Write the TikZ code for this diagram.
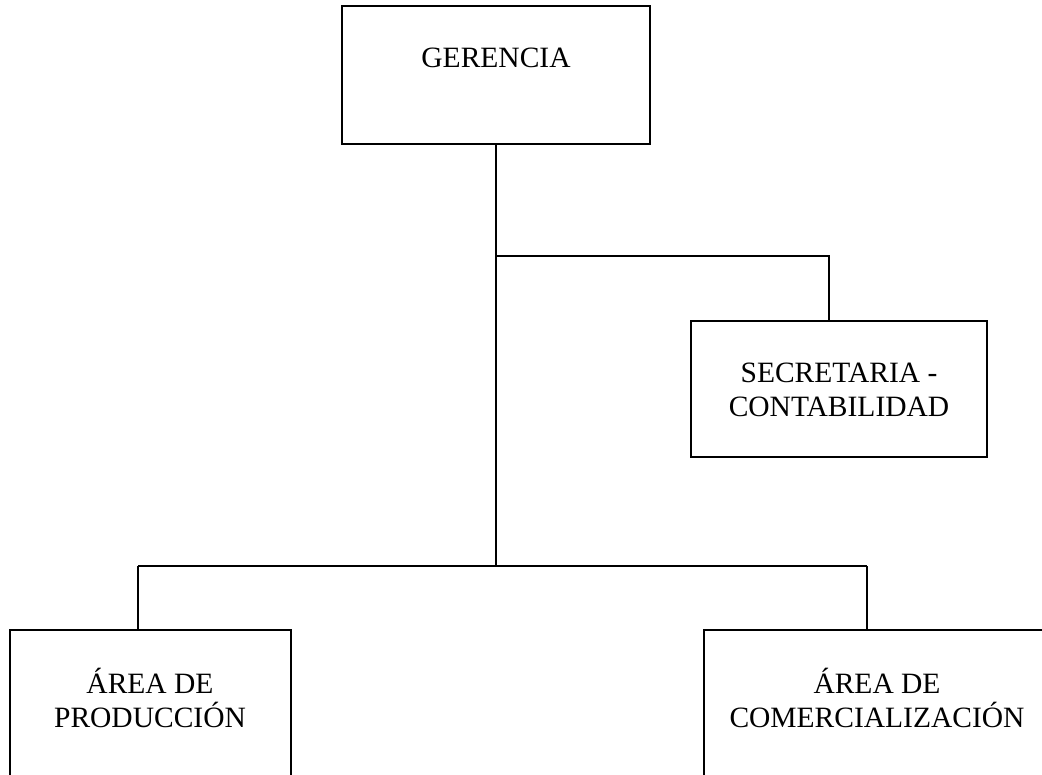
\documentclass[tikz,border=0pt]{standalone}
\usepackage{fontspec}
\setmainfont{Liberation Serif}
\begin{document}
\begin{tikzpicture}[x=1pt,y=-1pt,
  box/.style={draw=black, line width=1.6pt, rectangle, inner sep=0pt},
  lbl/.style={font=\fontsize{29.5}{34}\selectfont, align=center, inner sep=0pt},
  conn/.style={draw=black, line width=1.1pt}]
\useasboundingbox (0,0) rectangle (1042,775);
\clip (0,0) rectangle (1042,775);
% boxes
\node[box, minimum width=308, minimum height=138] (ger) at (496,75) {};
\node[box, minimum width=296, minimum height=136] (sec) at (839,389) {};
\node[box, minimum width=281, minimum height=170] (prod) at (150.5,715) {};
\node[box, minimum width=346, minimum height=170] (com) at (877,715) {};
% labels
\node[lbl, anchor=base] (gert) at (496,68) {GERENCIA};
\node[lbl, anchor=base] (sect1) at (839,383) {SECRETARIA -};
\node[lbl, anchor=base] (sect2) at (839,417) {CONTABILIDAD};
\node[lbl, anchor=base] (prodt1) at (150,693) {ÁREA DE};
\node[lbl, anchor=base] (prodt2) at (150,727) {PRODUCCIÓN};
\node[lbl, anchor=base] (comt1) at (877,693) {ÁREA DE};
\node[lbl, anchor=base] (comt2) at (877,727) {COMERCIALIZACIÓN};
% junctions
\coordinate (j1) at (496,256);
\coordinate (s1) at (829,256);
\coordinate (j2) at (496,566);
\coordinate (p1) at (138,566);
\coordinate (c1) at (867,566);
% connectors
\draw[conn] (ger.south) -- (j2);
\draw[conn] (j1) -- (s1) -- (s1 |- sec.north);
\draw[conn] (p1) -- (c1);
\draw[conn] (p1) -- (p1 |- prod.north);
\draw[conn] (c1) -- (c1 |- com.north);
\end{tikzpicture}
\end{document}
